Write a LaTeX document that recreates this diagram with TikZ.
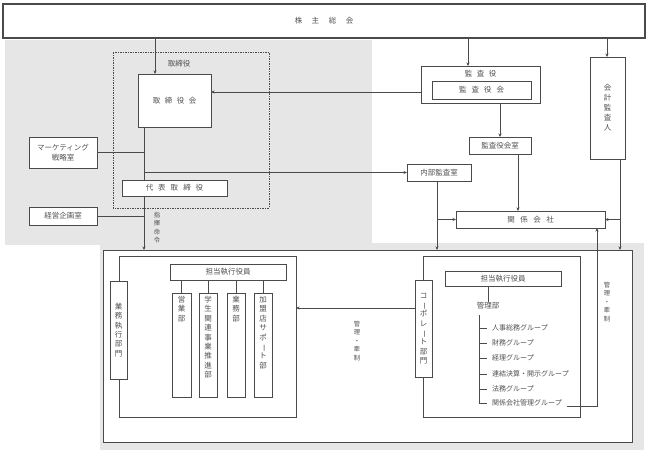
\documentclass[tikz,border=0pt]{standalone}
\usepackage{fontspec}
\newfontfamily\jp{Noto Sans CJK JP}
\usetikzlibrary{arrows.meta}
\definecolor{ln}{HTML}{4A4A4A}
\definecolor{tx}{HTML}{505050}
\definecolor{bgg}{HTML}{E6E6E6}
\pgfdeclarelayer{back}\pgfdeclarelayer{wires}
\pgfsetlayers{back,wires,main}
\newcommand{\vb}{\rotatebox[origin=c]{-90}{ー}}
\begin{document}
\begin{tikzpicture}[x=1pt,y=-1pt,
 box/.style={draw=ln, fill=white, line width=0.8pt, inner sep=0pt, outer sep=0pt, text=tx, font=\jp\fontsize{7.5}{10}\selectfont, align=center},
 wire/.style={draw=ln, line width=0.7pt},
 arr/.style={wire, -{Stealth[length=3.5pt,width=3pt]}},
 lbl/.style={text=tx, font=\jp\fontsize{7.5}{10}\selectfont, align=center, inner sep=0pt},
 vlbl/.style={text=tx, font=\jp\fontsize{7.5}{9.4}\selectfont, align=center, inner sep=0pt},
 slbl/.style={text=tx, font=\jp\fontsize{6.3}{8.5}\selectfont, align=center, inner sep=0pt},
]
\useasboundingbox (0,0) rectangle (648,453);

% boxes (main layer)
\node[box, line width=1.1pt, minimum width=642pt, minimum height=34pt] (kabu) at (324,21) {株\hspace{9.5pt}主\hspace{9.5pt}総\hspace{9.5pt}会};
\node[box, minimum width=73pt, minimum height=53pt] (torikai) at (174.5,100.5) {取\hspace{4.5pt}締\hspace{4.5pt}役\hspace{4.5pt}会};
\node[box, minimum width=68pt, minimum height=31pt] (mkt) at (63,152.5) {マーケティング\\戦略室};
\node[box, minimum width=105pt, minimum height=16pt] (daihyo) at (174.5,188) {代\hspace{5pt}表\hspace{5pt}取\hspace{5pt}締\hspace{5pt}役};
\node[box, minimum width=68pt, minimum height=18pt] (keiei) at (63,216) {経営企画室};
\node[box, minimum width=119pt, minimum height=37pt] (kansayaku) at (480.5,84.5) {};
\node[lbl] (kansayakut) at (480.5,74) {監\hspace{4.5pt}査\hspace{4.5pt}役};
\node[box, minimum width=99pt, minimum height=18pt] (kansakai) at (481.5,90) {監\hspace{5pt}査\hspace{5pt}役\hspace{5pt}会};
\node[box, minimum width=62pt, minimum height=17pt] (kansashitsu) at (500,145.5) {監査役会室};
\node[box, minimum width=64pt, minimum height=17pt] (naibu) at (439,172.5) {内部監査室};
\node[box, minimum width=149pt, minimum height=17pt] (kankei) at (530.5,219.5) {関\hspace{5.5pt}係\hspace{5.5pt}会\hspace{5.5pt}社};
\node[box, minimum width=35pt, minimum height=102pt, font=\jp\fontsize{7.5}{10}\selectfont] (kaikei) at (607.5,108) {会\\計\\監\\査\\人};

% containers (back layer)
\begin{pgfonlayer}{back}
\fill[bgg] (5,40) rectangle (372,245);
\fill[bgg] (100,243) rectangle (644,450);
\node[box, minimum width=529pt, minimum height=192pt] (lower) at (367.5,346) {};
\node[box, minimum width=177pt, minimum height=161pt] (leftin) at (207.5,336.5) {};
\node[box, minimum width=157pt, minimum height=161pt] (rightin) at (501.5,336.5) {};
\end{pgfonlayer}

% directors frame
\begin{pgfonlayer}{wires}
\draw[ln, line width=0.5pt, dash pattern=on 2pt off 1.2pt on 0.6pt off 1.2pt] (113,52) rectangle (269,208);
\end{pgfonlayer}
\node[lbl] (torilbl) at (179,64) {取締役};

% lower-left contents
\node[box, minimum width=17pt, minimum height=98pt, font=\jp\fontsize{7.5}{9.4}\selectfont] (gyomu) at (118.5,330) {業\\務\\執\\行\\部\\門};
\node[box, minimum width=116pt, minimum height=16pt] (tanto1) at (228,272) {担当執行役員};
\node[box, minimum width=19pt, minimum height=104pt] (eigyo) at (181.5,345) {};
\node[box, minimum width=18pt, minimum height=104pt] (gakusei) at (208,345) {};
\node[box, minimum width=18pt, minimum height=104pt] (gyomubu) at (236,345) {};
\node[box, minimum width=18pt, minimum height=104pt] (kamei) at (263,345) {};
\node[vlbl, anchor=north] (eigyot) at ([yshift=-3pt]eigyo.north) {営\\業\\部};
\node[vlbl, anchor=north] (gakuseit) at ([yshift=-3pt]gakusei.north) {学\\生\\関\\連\\事\\業\\推\\進\\部};
\node[vlbl, anchor=north] (gyomubut) at ([yshift=-3pt]gyomubu.north) {業\\務\\部};
\node[vlbl, anchor=north] (kameit) at ([yshift=-3pt]kamei.north) {加\\盟\\店\\サ\\ポ\\\vb\\ト\\部};

% lower-right contents
\node[box, minimum width=17pt, minimum height=97pt, font=\jp\fontsize{7.5}{9.3}\selectfont] (corp) at (423.5,328.5) {コ\\\vb\\ポ\\レ\\\vb\\ト\\部\\門};
\node[box, minimum width=116pt, minimum height=15pt] (tanto2) at (503,278.5) {担当執行役員};
\node[lbl] (kanri) at (488,306) {管理部};
\node[lbl, anchor=west, font=\jp\fontsize{7}{9}\selectfont] (g1) at (492,328) {人事総務グループ};
\node[lbl, anchor=west, font=\jp\fontsize{7}{9}\selectfont] (g2) at (492,343) {財務グループ};
\node[lbl, anchor=west, font=\jp\fontsize{7}{9}\selectfont] (g3) at (492,358) {経理グループ};
\node[lbl, anchor=west, font=\jp\fontsize{7}{9}\selectfont] (g4) at (492,374) {連結決算・開示グループ};
\node[lbl, anchor=west, font=\jp\fontsize{7}{9}\selectfont] (g5) at (492,389) {法務グループ};
\node[lbl, anchor=west, font=\jp\fontsize{7}{9}\selectfont] (g6) at (492,403) {関係会社管理グループ};

% labels
\node[slbl] (shiki) at (157,227.5) {指\\揮\\命\\令};
\node[slbl] (kansei1) at (357,341) {管\\理\\・\\牽\\制};
\node[slbl] (kansei2) at (607,302) {管\\理\\・\\牽\\制};

% coordinates
\coordinate (spx) at (144,0);
\coordinate (tr) at (479,315);
\coordinate (gend) at (567,406);
\coordinate (gturn) at (597,406);

\begin{pgfonlayer}{wires}
\draw[arr] (kabu.south -| 155,0) -- (torikai.north -| 155,0);
\draw[arr] (kabu.south -| 468,0) -- (kansayaku.north -| 468,0);
\draw[arr] (kabu.south -| 607,0) -- (kaikei.north -| 607,0);
\draw[arr] (kansayaku.west |- 0,92) -- (torikai.east |- 0,92);
\draw[arr] (torikai.south -| spx) -- (lower.north -| spx);
\draw[wire] (mkt.east) -- (mkt.east -| spx);
\draw[wire] (keiei.east) -- (keiei.east -| spx);
\draw[arr] (naibu.west -| spx) -- (naibu.west);
\draw[arr] (kansashitsu.north |- kansakai.south) -- (kansashitsu.north);
\draw[arr] (kansashitsu.south -| 518,0) -- (kankei.north -| 518,0);
\draw[arr] (naibu.south -| 437,0) -- (lower.north -| 437,0);
\draw[arr] (kankei.west -| 437,0) -- (kankei.west);
\draw[arr] (kaikei.south -| 620,0) -- (lower.north -| 620,0);
\draw[arr] (kankei.east -| 620,0) -- (kankei.east);
\draw[wire] (tanto1.south -| eigyo.north) -- (eigyo.north);
\draw[wire] (tanto1.south -| gakusei.north) -- (gakusei.north);
\draw[wire] (tanto1.south -| gyomubu.north) -- (gyomubu.north);
\draw[wire] (tanto1.south -| kamei.north) -- (kamei.north);
\draw[arr] (corp.west |- 0,308) -- (leftin.east |- 0,308);
\draw[wire] (tanto2.south -| kanri.north) -- (kanri.north);
\draw[wire] (tr) -- (tr |- g6.west) -- ([xshift=-5pt]g6.west);
\foreach \g in {g1,g2,g3,g4,g5}{\draw[wire] (tr |- \g.west) -- ([xshift=-5pt]\g.west);}
\draw[arr] (gend) -- (gturn) -- (kankei.south -| gturn);
\end{pgfonlayer}
\end{tikzpicture}
\end{document}
